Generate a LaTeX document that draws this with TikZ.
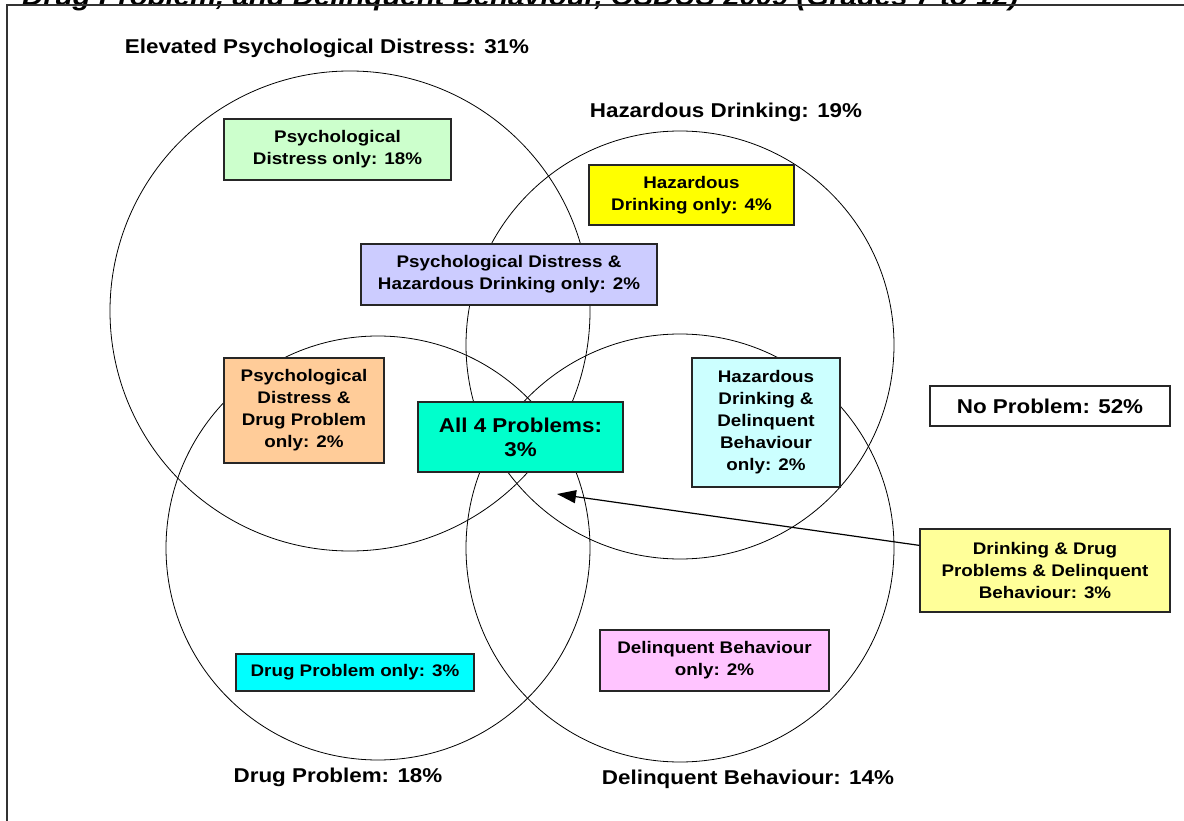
\documentclass[tikz,border=0pt]{standalone}
\usepackage{fontspec}
\setmainfont{Liberation Sans}[FakeStretch=1.12]
\usetikzlibrary{arrows.meta}
\definecolor{cgreen}{HTML}{CCFFCC}
\definecolor{cyellow}{HTML}{FFFF00}
\definecolor{clav}{HTML}{CCCCFF}
\definecolor{corange}{HTML}{FFCC99}
\definecolor{call}{HTML}{00FFCC}
\definecolor{clcyan}{HTML}{CCFFFF}
\definecolor{clyellow}{HTML}{FFFF99}
\definecolor{cpink}{HTML}{FFC4FF}
\definecolor{ccyan}{HTML}{00FFFF}
\tikzset{
  circ/.style={draw=black, line width=0.8pt},
  box/.style={draw=black!85, line width=1.2pt, align=center, inner sep=0pt,
    font=\bfseries\fontsize{16.8}{22}\selectfont},
  bigbox/.style={box, font=\bfseries\fontsize{20}{24}\selectfont},
  lbl/.style={font=\bfseries\fontsize{20}{23}\selectfont, inner sep=0pt},
  conn/.style={line width=1.2pt, -{Triangle[length=19pt,width=13pt]}},
  frame/.style={line width=1.5pt, draw=black!80}
}
\begin{document}
\begin{tikzpicture}[x=1pt,y=-1pt]
\useasboundingbox (0,0) rectangle (1184,821);
% title (cut off at the top, as in the reference)
\node[anchor=base west, inner sep=0pt, font=\bfseries\itshape\fontsize{26.2}{30}\selectfont] (title) at (22,6) {Drug Problem, and Delinquent Behaviour, OSDUS 2009 (Grades 7 to 12)};
\draw[frame] (7,821) -- (7,5) -- (1184,5);
% circles
\draw[circ] (350,311) circle[radius=240];
\draw[circ] (680,345) circle[radius=214];
\draw[circ] (378,548) circle[radius=212];
\draw[circ] (680,548) circle[radius=214];
% circle labels
\node[lbl] (lpd) at (327,48) {Elevated Psychological Distress: 31\%};
\node[lbl] (lhd) at (726,112) {Hazardous Drinking: 19\%};
\node[lbl] (ldp) at (338,777) {Drug Problem: 18\%};
\node[lbl] (ldb) at (748,779) {Delinquent Behaviour: 14\%};
% boxes
\node[box, fill=cgreen, minimum width=227, minimum height=61] (b1) at (337.5,149.5) {Psychological\\Distress only: 18\%};
\node[box, fill=cyellow, minimum width=205, minimum height=60] (b2) at (691.5,195) {Hazardous\\Drinking only: 4\%};
\node[box, fill=clav, minimum width=296, minimum height=61] (b3) at (509,274.5) {Psychological Distress \&\\Hazardous Drinking only: 2\%};
\node[box, fill=corange, minimum width=160, minimum height=105] (b4) at (304,410.5) {Psychological\\Distress \&\\Drug Problem\\only: 2\%};
\node[bigbox, fill=call, minimum width=205, minimum height=70] (b5) at (520.5,437) {All 4 Problems:\\3\%};
\node[box, fill=clcyan, minimum width=148, minimum height=129] (b6) at (766,422.5) {Hazardous\\Drinking \&\\Delinquent\\Behaviour\\only: 2\%};
\node[bigbox, fill=white, minimum width=240, minimum height=40] (b7) at (1050,406) {No Problem: 52\%};
\node[box, fill=clyellow, minimum width=250, minimum height=83] (b8) at (1045,570.5) {Drinking \& Drug\\Problems \& Delinquent\\Behaviour: 3\%};
\node[box, fill=cpink, minimum width=229, minimum height=61] (b9) at (714.5,660.5) {Delinquent Behaviour\\only: 2\%};
\node[box, fill=ccyan, minimum width=238, minimum height=37] (b10) at (355,672.5) {Drug Problem only: 3\%};
% arrow
\coordinate (tgt) at (557,494);
\draw[conn] ([yshift=-17pt]b8.north west) -- (tgt);
\end{tikzpicture}
\end{document}
